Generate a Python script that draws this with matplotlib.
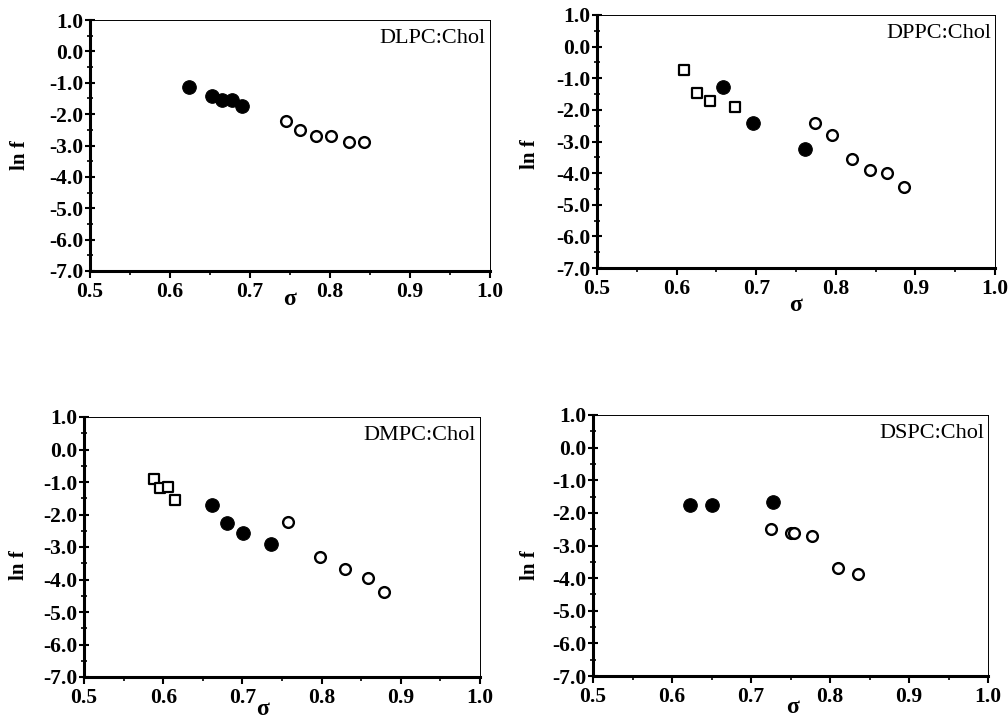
import matplotlib
matplotlib.use("Agg")
import matplotlib.pyplot as plt
from matplotlib.ticker import MultipleLocator, FormatStrFormatter

plt.rcParams['font.family'] = ['Liberation Serif', 'DejaVu Serif']

# ---- data: sigma (x) and ln f (y) per lipid mixture ----
# DLPC:Chol
dlpc_filled_x = [0.624, 0.652, 0.665, 0.678, 0.690]
dlpc_filled_y = [-1.13, -1.42, -1.56, -1.54, -1.75]
dlpc_open_x = [0.745, 0.763, 0.782, 0.801, 0.824, 0.842]
dlpc_open_y = [-2.22, -2.51, -2.71, -2.70, -2.90, -2.90]

# DPPC:Chol
dppc_square_x = [0.609, 0.625, 0.642, 0.673]
dppc_square_y = [-0.74, -1.47, -1.72, -1.91]
dppc_filled_x = [0.658, 0.696, 0.761]
dppc_filled_y = [-1.28, -2.43, -3.23]
dppc_open_x = [0.774, 0.795, 0.820, 0.843, 0.864, 0.886]
dppc_open_y = [-2.42, -2.80, -3.56, -3.90, -4.00, -4.43]

# DMPC:Chol
dmpc_square_x = [0.588, 0.596, 0.606, 0.615]
dmpc_square_y = [-0.91, -1.19, -1.14, -1.55]
dmpc_filled_x = [0.662, 0.681, 0.701, 0.736]
dmpc_filled_y = [-1.70, -2.25, -2.58, -2.90]
dmpc_open_x = [0.757, 0.798, 0.830, 0.858, 0.879]
dmpc_open_y = [-2.24, -3.31, -3.69, -3.95, -4.38]

# DSPC:Chol
dspc_filled_x = [0.623, 0.650, 0.728]
dspc_filled_y = [-1.75, -1.75, -1.67]
dspc_open_x = [0.725, 0.750, 0.755, 0.777, 0.810, 0.835]
dspc_open_y = [-2.50, -2.63, -2.63, -2.71, -3.69, -3.87]

panel_titles = ["DLPC:Chol", "DPPC:Chol", "DMPC:Chol", "DSPC:Chol"]
x_ticks = [0.5, 0.6, 0.7, 0.8, 0.9, 1.0]
y_ticks = [1.0, 0.0, -1.0, -2.0, -3.0, -4.0, -5.0, -6.0, -7.0]

panels = [
    dict(title=panel_titles[0], squares=None,
         filled=(dlpc_filled_x, dlpc_filled_y), open=(dlpc_open_x, dlpc_open_y),
         rect=[90, 20, 490, 271], ylab=(-0.175, 0.46), xlab=(0.5, -0.115)),
    dict(title=panel_titles[1], squares=(dppc_square_x, dppc_square_y),
         filled=(dppc_filled_x, dppc_filled_y), open=(dppc_open_x, dppc_open_y),
         rect=[597, 15, 995, 268], ylab=(-0.168, 0.45), xlab=(0.5, -0.15)),
    dict(title=panel_titles[2], squares=(dmpc_square_x, dmpc_square_y),
         filled=(dmpc_filled_x, dmpc_filled_y), open=(dmpc_open_x, dmpc_open_y),
         rect=[84, 417, 480, 677], ylab=(-0.165, 0.43), xlab=(0.45, -0.125)),
    dict(title=panel_titles[3], squares=None,
         filled=(dspc_filled_x, dspc_filled_y), open=(dspc_open_x, dspc_open_y),
         rect=[593, 415, 988, 676], ylab=(-0.16, 0.425), xlab=(0.506, -0.122)),
]

W, H = 1008, 720
fig = plt.figure(figsize=(W / 100, H / 100), dpi=100)

for p in panels:
    l, t, r, b = p["rect"]
    ax = fig.add_axes([l / W, (H - b) / H, (r - l) / W, (b - t) / H])

    if p["squares"] is not None:
        ax.scatter(*p["squares"], marker='s', s=60, facecolors='white',
                   edgecolors='black', linewidths=1.6, zorder=3)
    ax.scatter(*p["filled"], marker='o', s=95, facecolors='black',
               edgecolors='black', linewidths=0.8, zorder=3)
    ax.scatter(*p["open"], marker='o', s=60, facecolors='white',
               edgecolors='black', linewidths=1.7, zorder=3)

    ax.set_xlim(0.5, 1.0)
    ax.set_ylim(-7.0, 1.0)
    ax.set_xticks(x_ticks)
    ax.set_yticks(y_ticks)
    ax.xaxis.set_minor_locator(MultipleLocator(0.05))
    ax.yaxis.set_minor_locator(MultipleLocator(0.5))
    ax.xaxis.set_major_formatter(FormatStrFormatter('%.1f'))
    ax.yaxis.set_major_formatter(FormatStrFormatter('%.1f'))

    for lab in ax.get_xticklabels() + ax.get_yticklabels():
        lab.set_fontweight('bold')
        lab.set_fontsize(15.5)

    ax.tick_params(axis='x', which='major', direction='out', length=5, width=1.5, pad=3)
    ax.tick_params(axis='x', which='minor', direction='out', length=3, width=1.2)
    ax.tick_params(axis='y', which='major', direction='inout', length=7, width=1.5, pad=1)
    ax.tick_params(axis='y', which='minor', direction='inout', length=5, width=1.2)

    ax.spines['left'].set_linewidth(2.2)
    ax.spines['bottom'].set_linewidth(2.2)
    ax.spines['top'].set_linewidth(0.7)
    ax.spines['right'].set_linewidth(0.7)

    ax.text(0.99, 0.965, p["title"], transform=ax.transAxes, ha='right', va='top',
            fontsize=16)
    ax.text(p["ylab"][0], p["ylab"][1], "ln f", transform=ax.transAxes, rotation=90,
            ha='center', va='center', fontsize=15, fontweight='bold')
    ax.text(p["xlab"][0], p["xlab"][1], "σ", transform=ax.transAxes,
            ha='center', va='center', fontsize=17, fontweight='bold')

fig.savefig("out.png", dpi=100, facecolor='white')
